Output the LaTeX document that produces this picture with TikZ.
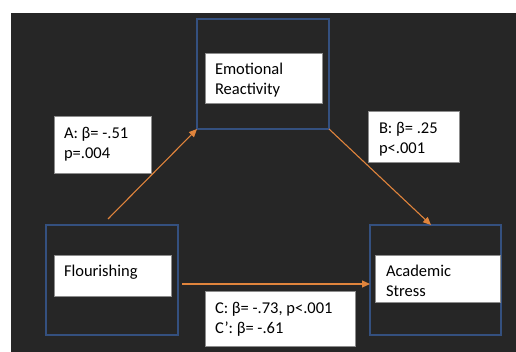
\documentclass[tikz,border=0pt]{standalone}
\usepackage{fontspec}
\setmainfont{Carlito}
\usetikzlibrary{arrows.meta}
\definecolor{bgdark}{HTML}{262626}
\definecolor{boxblue}{HTML}{34507F}
\definecolor{arrorange}{HTML}{E0843C}
\definecolor{edgegray}{HTML}{8C8C8C}
\tikzset{
  outerbox/.style={draw=boxblue, line width=1.1pt, inner sep=0pt, outer sep=0pt, anchor=north west},
  whitebox/.style={fill=white, draw=edgegray, line width=0.6pt, inner sep=0pt, outer sep=0pt, anchor=north west},
  boxtext/.style={inner sep=0pt, outer sep=0pt, anchor=north west, align=left, text=black,
    font=\fontsize{16.5}{20.5}\selectfont},
  patharrow/.style={draw=arrorange, line width=1.1pt, -{Triangle[length=8pt,width=7pt]}}
}
\begin{document}
\begin{tikzpicture}[x=1pt,y=-1pt]
\useasboundingbox (0,0) rectangle (516,352);
\fill[white] (0,0) rectangle (516,352);
\fill[bgdark] (11,13) rectangle (516,352);

% outer blue boxes
\node[outerbox, minimum width=132pt, minimum height=110pt] (erOuter) at (197,19) {};
\node[outerbox, minimum width=132pt, minimum height=110pt] (flOuter) at (46,225) {};
\node[outerbox, minimum width=131pt, minimum height=110pt] (asOuter) at (370,225) {};

% arrows
\coordinate (aStart) at (108,219);
\coordinate (cStart) at (182,284);
\draw[patharrow] (aStart) -- (erOuter.south west);
\draw[patharrow] (erOuter.south east) -- ([xshift=-4.5pt]asOuter.north);
\draw[patharrow] (cStart) -- (cStart -| asOuter.west);

% white boxes
\node[whitebox, minimum width=117pt, minimum height=50pt] (erBox) at (205,53) {};
\node[whitebox, minimum width=117pt, minimum height=41pt] (flBox) at (54,255) {};
\node[whitebox, minimum width=125pt, minimum height=47pt] (asBox) at (375,255) {};
\node[whitebox, minimum width=97pt, minimum height=57pt] (aBox) at (54,116) {};
\node[whitebox, minimum width=91pt, minimum height=51pt] (bBox) at (368,111) {};
\node[whitebox, minimum width=150pt, minimum height=55pt] (cBox) at (205,291) {};

% texts
\node[boxtext] (erText) at (215,60) {\strut Emotional\\Reactivity};
\node[boxtext] (flText) at (64,262) {\strut Flourishing};
\node[boxtext] (asText) at (386,262) {\strut Academic\\Stress};
\node[boxtext] (aText) at (64,124) {\strut A: β= -.51\\p=.004};
\node[boxtext] (bText) at (379,119) {\strut B: β= .25\\p<.001};
\node[boxtext] (cText) at (215,299) {\strut C: β= -.73, p<.001\\C’: β= -.61};
\end{tikzpicture}
\end{document}
